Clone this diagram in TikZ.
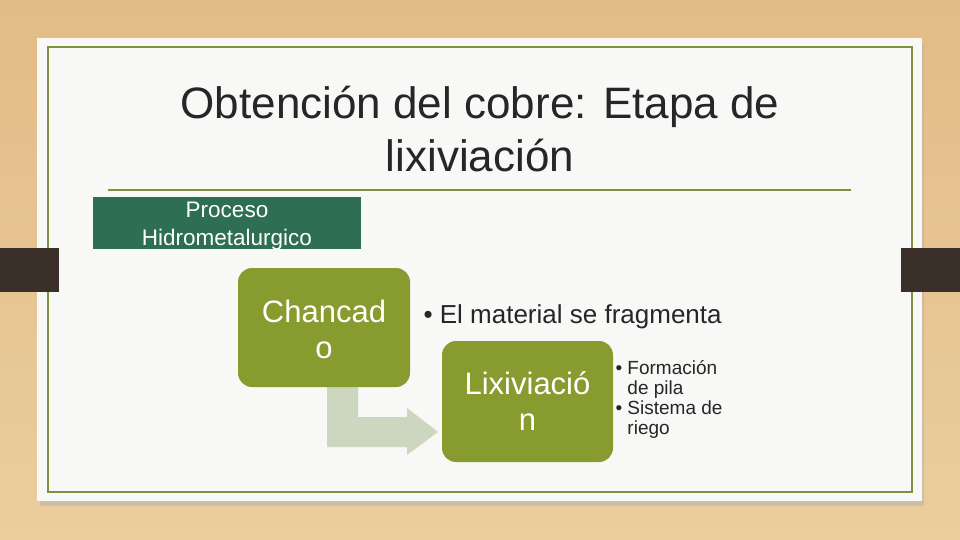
\documentclass[tikz,border=0pt]{standalone}
\usepackage{fontspec}
\setmainfont{Liberation Sans}
\begin{document}
\begin{tikzpicture}[x=1pt,y=-1pt]
\definecolor{wood}{HTML}{EBCD9E}
\definecolor{woodd}{HTML}{E2BC86}
\definecolor{card}{HTML}{F8F8F7}
\definecolor{frame}{HTML}{7E9140}
\definecolor{olive}{HTML}{889B2E}
\definecolor{deepgreen}{HTML}{2E6E52}
\definecolor{tab}{HTML}{3A2F29}
\definecolor{arrowc}{HTML}{CDD6BE}
\tikzset{
  olivebox/.style={fill=olive, rounded corners=14pt},
  boxtext/.style={text=white, align=center, font=\fontsize{31}{36}\selectfont},
  bullets/.style={anchor=north west, align=left, text=black!85},
}
\useasboundingbox (0,0) rectangle (960,540);
% background
\fill[top color=woodd, bottom color=wood] (0,0) rectangle (960,540);
% card shadow and card
\fill[black!30, opacity=0.5] (40,44) rectangle (924,506);
\fill[card] (37,38) rectangle (922,501);
\draw[frame, line width=2pt] (48,47) rectangle (912,492);
% tabs
\fill[tab] (0,248) rectangle (59,292);
\fill[tab] (901,248) rectangle (960,292);
% title
\node[font=\fontsize{44}{53}\selectfont, align=center, text=black!85] (title) at (480,129)
  {Obtención del cobre: Etapa de\\lixiviación};
\draw[frame, line width=2pt] (108,190) -- (851,190);
% proceso box
\fill[deepgreen] (93,197) rectangle (361,249);
\node[text=white, align=center, font=\fontsize{22.5}{28}\selectfont] (proc) at (227,226)
  {Proceso\\Hidrometalurgico};
% arrow
\fill[arrowc] (327,387) -- (358,387) -- (358,417) -- (407,417) -- (407,408)
  -- (438,432) -- (407,455) -- (407,447) -- (327,447) -- cycle;
% boxes
\node[olivebox, minimum width=172pt, minimum height=119pt, inner sep=0pt] (chanc) at (324,327.5) {};
\node[boxtext] (chanct) at (324,329) {Chancad\\o};
\node[olivebox, minimum width=171pt, minimum height=121pt, inner sep=0pt] (lix) at (527.5,401.5) {};
\node[boxtext] (lixt) at (527.5,401) {Lixiviació\\n};
% bullets
\node[bullets, font=\fontsize{26}{28}\selectfont, anchor=west] (b1) at (420,317)
  {\textbullet\ El material se fragmenta};
\node[bullets, font=\fontsize{19}{20}\selectfont] (b2) at (612,357)
  {\textbullet\ Formación\\\phantom{\textbullet\ }de pila\\\textbullet\ Sistema de\\\phantom{\textbullet\ }riego};
\end{tikzpicture}
\end{document}
